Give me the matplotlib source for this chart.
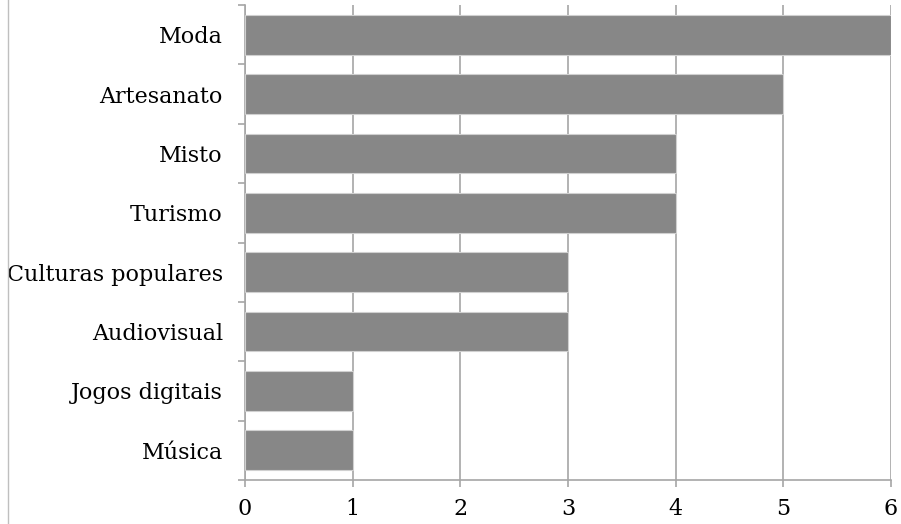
import matplotlib.pyplot as plt
from matplotlib.lines import Line2D

# Data (top to bottom as in the chart)
categories = ['Moda', 'Artesanato', 'Misto', 'Turismo', 'Culturas populares',
              'Audiovisual', 'Jogos digitais', 'Música']
values = [6, 5, 4, 4, 3, 3, 1, 1]
x_ticks = [0, 1, 2, 3, 4, 5, 6]

plt.rcParams['font.family'] = ['DejaVu Serif']

fig = plt.figure(figsize=(9.01, 5.24), dpi=100)
ax = fig.add_axes([245 / 901, 1 - 480 / 524, (891 - 245) / 901, (480 - 5) / 524])

pos = list(range(len(categories)))[::-1]
ax.barh(pos, values, height=0.67, color='#878787', edgecolor='#d0d0d0',
        linewidth=0.8, zorder=3)

ax.set_xlim(0, 6)
ax.set_ylim(-0.5, len(categories) - 0.5)
ax.set_xticks(x_ticks)
ax.set_xticklabels([str(v) for v in x_ticks])
ax.set_yticks(pos)
ax.set_yticklabels(categories)

# category separators as outward ticks
ax.set_yticks([p - 0.5 for p in range(len(categories) + 1)], minor=True)
ax.tick_params(axis='y', which='major', length=0, pad=16, labelsize=16)
ax.tick_params(axis='y', which='minor', length=5, color='#a6a6a6', width=1.2)
ax.tick_params(axis='x', length=5, color='#a6a6a6', width=1.2, labelsize=16, pad=8)

ax.grid(axis='x', color='#a6a6a6', linewidth=1.2, zorder=0)
for s in ['top', 'right']:
    ax.spines[s].set_visible(False)
ax.spines['left'].set_color('#a6a6a6')
ax.spines['bottom'].set_color('#a6a6a6')
ax.spines['left'].set_linewidth(1.2)
ax.spines['bottom'].set_linewidth(1.2)

# outer chart border on the left
fig.add_artist(Line2D([8 / 901, 8 / 901], [0, 1], transform=fig.transFigure,
                      color='#bfbfbf', linewidth=1))

fig.savefig('out.png', dpi=100)
